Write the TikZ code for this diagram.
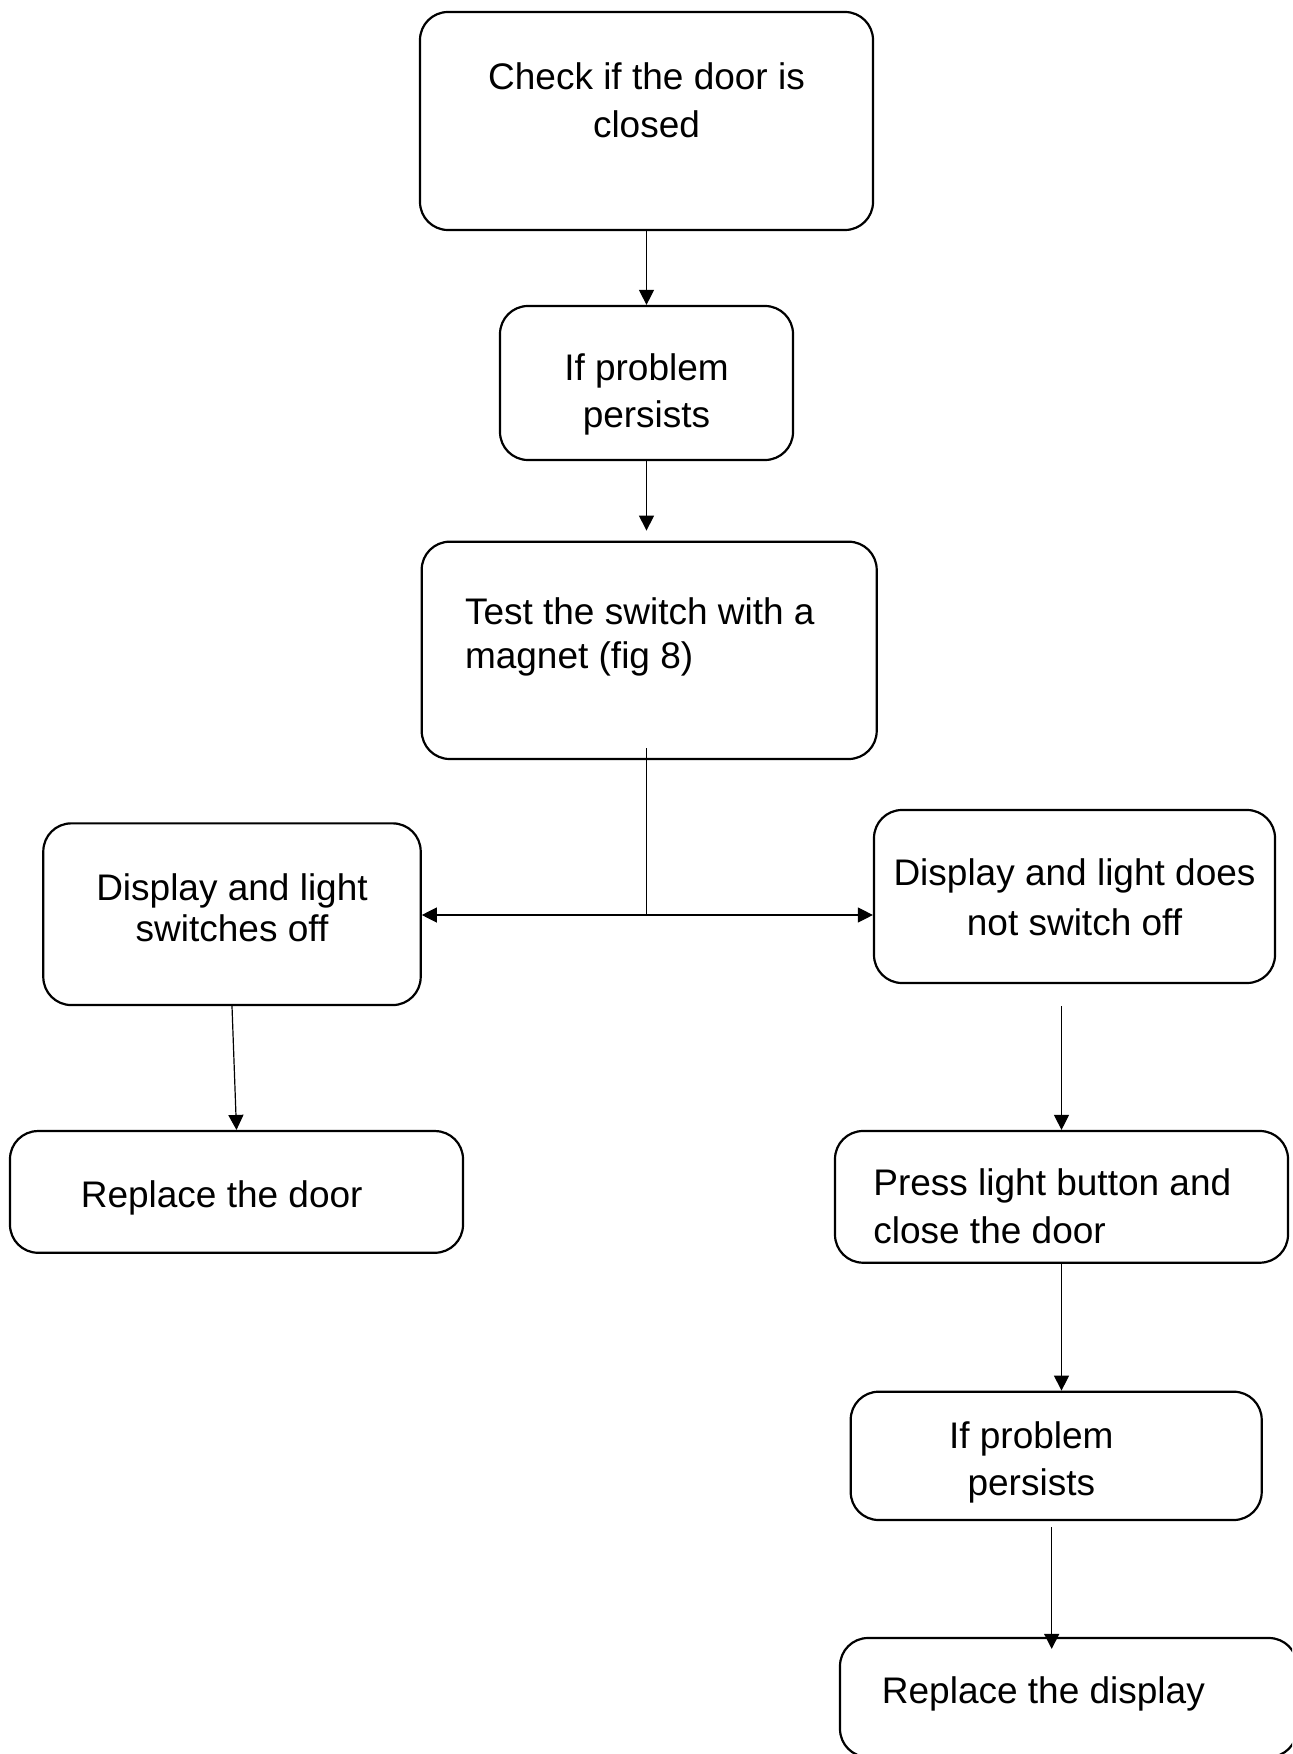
\documentclass[tikz,border=0pt]{standalone}
\usepackage{fontspec}
\setmainfont{Liberation Sans}
\usetikzlibrary{arrows.meta}

\tikzset{
  flowbox/.style={draw, line width=1.1pt, rounded corners=14pt, inner sep=0pt,
    align=center, font=\fontsize{18.5pt}{#1}\selectfont},
  flowbox/.default=23.5pt,
  conn/.style={-{Triangle[length=7.5pt,width=7.5pt]}, line width=0.6pt},
  plain/.style={line width=0.6pt}
}

\begin{document}
\begin{tikzpicture}[x=0.5pt,y=-0.5pt]
  \useasboundingbox (0,0) rectangle (1292,1754);
  \clip (0,0) rectangle (1292,1754);

  \node[flowbox=24pt, minimum width=226.5pt, text height=62.6pt, text depth=46.4pt]
    (check) at (646.5,121) {Check if the door is\\closed};
  \node[flowbox, minimum width=146.5pt, text height=60.75pt, text depth=16.25pt]
    (persist) at (646.5,383) {If problem\\persists};
  \node[flowbox=21.7pt, align=left, minimum width=227.5pt, text height=63.15pt, text depth=45.5pt]
    (test) at (649.2,650.35) {Test the switch with a\hspace*{9.4pt}\\magnet (fig 8)};
  \node[flowbox=20.85pt, minimum width=188.7pt, text height=59.2pt, text depth=31.65pt]
    (off) at (232,914.2) {Display and light\\switches off};
  \node[flowbox=25pt, minimum width=200.5pt, text height=62.5pt, text depth=24pt]
    (noff) at (1074.5,896.5) {Display and light does\\not switch off};
  \node[flowbox, minimum width=226.5pt, text height=38pt, text depth=22.85pt]
    (door) at (236.5,1191.9) {Replace the door\hspace*{14.8pt}};
  \node[flowbox=24pt, align=left, minimum width=226.5pt, text height=56.15pt, text depth=9.7pt]
    (press) at (1061.5,1196.85) {Press light button and\hspace*{9.2pt}\\close the door};
  \node[flowbox, minimum width=205.5pt, text height=51.65pt, text depth=12.5pt]
    (persist2) at (1056.2,1455.85) {If problem\hspace*{24.9pt}\\persists\hspace*{24.9pt}};
  \node[flowbox, minimum width=228.5pt, text height=32.65pt, text depth=26.85pt]
    (display) at (1068.5,1697.5) {Replace the display\hspace*{25.1pt}};

  \coordinate (stem) at (646.7,748);
  \coordinate (split) at (646.7,915);
  \coordinate (drop1) at (1061.5,1006);
  \coordinate (drop2) at (1051.7,1527);

  \draw[conn] (check.south) -- (persist.north);
  \draw[conn, shorten >=5pt] (persist.south) -- (persist.south |- test.north);
  \draw[plain] (stem) -- (split);
  \draw[conn] (split) -- (split -| off.east);
  \draw[conn] (split) -- (split -| noff.west);
  \draw[conn] (off.south) -- (door.north);
  \draw[conn] (drop1) -- (drop1 |- press.north);
  \draw[conn] (press.south) -- (press.south |- persist2.north);
  \draw[conn, shorten >=-6pt] (drop2) -- (drop2 |- display.north);
\end{tikzpicture}
\end{document}
